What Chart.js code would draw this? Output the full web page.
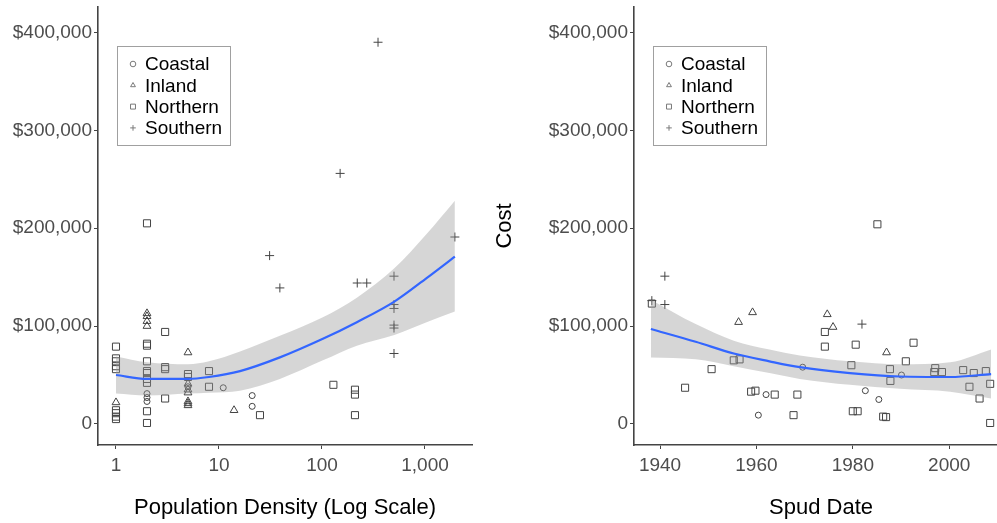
<!DOCTYPE html>
<html>
<head>
<meta charset="utf-8">
<script src="https://cdn.jsdelivr.net/npm/chart.js@4.4.1/dist/chart.umd.min.js"></script>
<style>
    html, body { margin: 0; padding: 0; background: #fff; width: 997px; height: 523px; overflow: hidden; }
    .panel { position: absolute; top: 0; }
    #densityWrap { left: 0; }
    #spudWrap { left: 488px; }
</style>
</head>
<body>
<div class="panel" id="densityWrap"><canvas id="densityChart" width="480" height="523"></canvas></div>
<div class="panel" id="spudWrap"><canvas id="spudChart" width="530" height="523"></canvas></div>
<script>
const FONT = "'Liberation Sans', Arial, Helvetica, sans-serif";

// left panel: cost against population density (log x)
const densityCoastalX = [2, 2, 2, 5, 11, 21, 21];
const densityCoastalY = [31000, 27000, 23000, 38000, 37000, 29000, 18000];
const densityInlandX = [1, 2, 2, 2, 2, 5, 5, 5, 5, 5, 5, 5, 14];
const densityInlandY = [22000, 113000, 110000, 105000, 100000, 73000, 41000, 35000, 32000, 23000, 21000, 19000, 14000];
const densityNorthernX = [1, 1, 1, 1, 1, 1, 1, 1, 1, 2, 2, 2, 2, 2, 2, 2, 2, 2, 2, 3, 3, 3, 3, 5, 5, 8, 8, 25, 129, 209, 209, 209];
const densityNorthernY = [79000, 67000, 64000, 59000, 56000, 14000, 11000, 7500, 5000,
    205000, 82000, 80000, 64000, 54000, 52000, 46000, 42000, 13000, 1000,
    94000, 58000, 56000, 26000, 51000, 48000, 54000, 38000, 9000, 40000, 35000, 30000, 9000];
const densitySouthernX = [31, 39, 150, 220, 272, 350, 500, 500, 500, 500, 500, 500, 1950];
const densitySouthernY = [172000, 139000, 256000, 144000, 144000, 390000, 151000, 122000, 118000, 101000, 98000, 72000, 191000];
const densityFitX = [1, 2, 5, 8, 16, 39, 102, 218, 504, 1036, 1950];
const densityFit = [50000, 46000, 46000, 48000, 54000, 68000, 87000, 104000, 125000, 149000, 171000];
const densityLow = [31000, 29000, 31000, 32000, 34000, 46000, 65000, 80000, 91000, 104000, 115000];
const densityHigh = [69000, 63000, 61000, 64000, 74000, 90000, 109000, 129000, 159000, 194000, 228000];

// right panel: cost against spud date
const spudCoastalX = [1960.4, 1962, 1969.6, 1982.6, 1985.4, 1990.1];
const spudCoastalY = [9000, 30000, 58000, 34000, 25000, 50000];
const spudInlandX = [1956.3, 1959.2, 1974.7, 1975.9, 1987];
const spudInlandY = [104000, 114000, 112000, 99000, 73000];
const spudNorthernX = [1938.3, 1945.2, 1950.7, 1955.3, 1956.5, 1958.9, 1959.8, 1963.8, 1967.7, 1968.5,
    1974.2, 1974.2, 1979.7, 1980, 1980.6, 1981, 1985.1, 1986.3, 1986.9, 1987.7,
    1987.8, 1991, 1992.6, 1996.9, 1997.1, 1998.5, 2002.9, 2004.2, 2005.1, 2006.3,
    2007.6, 2008.5, 2008.5];
const spudNorthernY = [123000, 37000, 56000, 65000, 66000, 33000, 34000, 30000, 9000, 30000,
    94000, 79000, 60000, 13000, 81000, 13000, 204000, 7500, 7000, 56000,
    44000, 64000, 83000, 53000, 57000, 53000, 55000, 38000, 52000, 26000,
    54000, 41000, 1000];
const spudSouthernX = [1938.3, 1941, 1941, 1981.9];
const spudSouthernY = [126000, 151000, 122000, 102000];
const spudFitX = [1938.1, 1947.4, 1955.3, 1962.7, 1969, 1979.4, 1989.8, 2000.2, 2008.7];
const spudFit = [97000, 84000, 72000, 64000, 58000, 52000, 48500, 48000, 51000];
const spudLow = [68000, 66000, 59000, 52000, 46000, 40000, 36000, 33000, 26000];
const spudHigh = [127000, 102000, 85000, 76000, 70000, 64000, 61000, 63000, 76000];

const costTicks = [0, 100000, 200000, 300000, 400000];
const densityTicks = [1, 10, 100, 1000];
const spudTicks = [1940, 1960, 1980, 2000];
const regions = ["Coastal", "Inland", "Northern", "Southern"];
const shapes = ["circle", "triangle", "rect", "cross"];
const shapeSizes = [3, 4.5, 5, 4.5];

Chart.defaults.font.family = FONT;
Chart.defaults.animation = false;

const toPoints = (xs, ys) => xs.map((x, i) => ({x, y: ys[i]}));

// boxed key in the upper left of the plot area
const legendBox = {
    id: "legendBox",
    afterDatasetsDraw(chart) {
        const {ctx, chartArea} = chart;
        const left = chartArea.left + 19, top = chartArea.top + 39;
        ctx.save();
        ctx.fillStyle = "#fff";
        ctx.fillRect(left, top, 113, 99);
        ctx.strokeStyle = "#a0a0a0";
        ctx.lineWidth = 1;
        ctx.strokeRect(left + 0.5, top + 0.5, 113, 99);
        ctx.font = "19px " + FONT;
        ctx.textBaseline = "middle";
        regions.forEach((name, i) => {
            const cy = top + 18 + i * 21.3;
            ctx.strokeStyle = "#7a7a7a";
            ctx.fillStyle = "rgba(0,0,0,0)";
            Chart.helpers.drawPoint(ctx, {pointStyle: shapes[i], radius: i === 2 ? 3.5 : 2.8, rotation: 0, borderWidth: 1}, left + 16, cy);
            ctx.fillStyle = "#000";
            ctx.fillText(name, left + 28, cy + 1);
        });
        ctx.restore();
    }
};

function buildDatasets(series, fitX, fit, low, high) {
    const sets = [
        {data: toPoints(fitX, low), borderWidth: 0, pointRadius: 0, fill: false,
         cubicInterpolationMode: "monotone", order: 1},
        {data: toPoints(fitX, high), borderWidth: 0, pointRadius: 0, fill: "-1",
         backgroundColor: "rgba(153,153,153,0.4)", cubicInterpolationMode: "monotone", order: 1},
        {data: toPoints(fitX, fit), borderColor: "#3366FF", borderWidth: 2.2, pointRadius: 0, fill: false,
         cubicInterpolationMode: "monotone", order: 0}
    ];
    series.forEach(([xs, ys], i) => {
        sets.push({
            label: regions[i],
            data: toPoints(xs, ys),
            showLine: false,
            pointStyle: shapes[i],
            pointRadius: shapeSizes[i],
            pointBorderColor: "#444",
            pointBackgroundColor: "rgba(0,0,0,0)",
            pointBorderWidth: 1,
            order: 2
        });
    });
    return sets;
}

const axisLine = {
    grid: {display: true, drawOnChartArea: false, drawTicks: true, tickLength: 4, color: "#444", lineWidth: 1},
    border: {display: true, color: "#444", width: 1.6}
};

function costAxis(width, withTitle) {
    return {
        type: "linear",
        min: -21500,
        max: 426000,
        afterBuildTicks: s => { s.ticks = costTicks.map(v => ({value: v})); },
        afterFit: s => { s.width = width; s.paddingTop = 0; s.paddingBottom = 0; },
        ticks: {
            color: "#4d4d4d",
            font: {size: 19},
            padding: 2,
            callback: v => v === 0 ? "0" : "$" + v.toLocaleString("en-US")
        },
        title: {display: withTitle, text: "Cost", color: "#000", font: {size: 22}, padding: {top: 4, bottom: 0}},
        ...axisLine
    };
}

function bottomAxis(type, min, max, tickValues, titleText, fmt) {
    return {
        type,
        min,
        max,
        afterBuildTicks: s => { s.ticks = tickValues.map(v => ({value: v})); },
        afterFit: s => { s.height = 78; s.paddingLeft = 0; s.paddingRight = 0; },
        ticks: {color: "#4d4d4d", font: {size: 19}, padding: 5, maxRotation: 0, autoSkip: false, callback: fmt},
        title: {display: true, text: titleText, color: "#000", font: {size: 22}, padding: {top: 0, bottom: 2}},
        ...axisLine
    };
}

function makeChart(id, datasets, xAxis, yAxis, padRight) {
    return new Chart(document.getElementById(id).getContext("2d"), {
        type: "line",
        data: {datasets},
        options: {
            responsive: false,
            layout: {padding: {top: 7, right: padRight, bottom: 0, left: 0}},
            plugins: {legend: {display: false}, tooltip: {enabled: false}},
            scales: {x: xAxis, y: yAxis}
        },
        plugins: [legendBox]
    });
}

makeChart("densityChart",
    buildDatasets([[densityCoastalX, densityCoastalY], [densityInlandX, densityInlandY],
                   [densityNorthernX, densityNorthernY], [densitySouthernX, densitySouthernY]],
                  densityFitX, densityFit, densityLow, densityHigh),
    bottomAxis("logarithmic", 0.669, 2860, densityTicks, "Population Density (Log Scale)", v => v.toLocaleString("en-US")),
    costAxis(98, false),
    8);

makeChart("spudChart",
    buildDatasets([[spudCoastalX, spudCoastalY], [spudInlandX, spudInlandY],
                   [spudNorthernX, spudNorthernY], [spudSouthernX, spudSouthernY]],
                  spudFitX, spudFit, spudLow, spudHigh),
    bottomAxis("linear", 1934.6, 2012.2, spudTicks, "Spud Date", v => String(v)),
    costAxis(146, true),
    10);
</script>
</body>
</html>
